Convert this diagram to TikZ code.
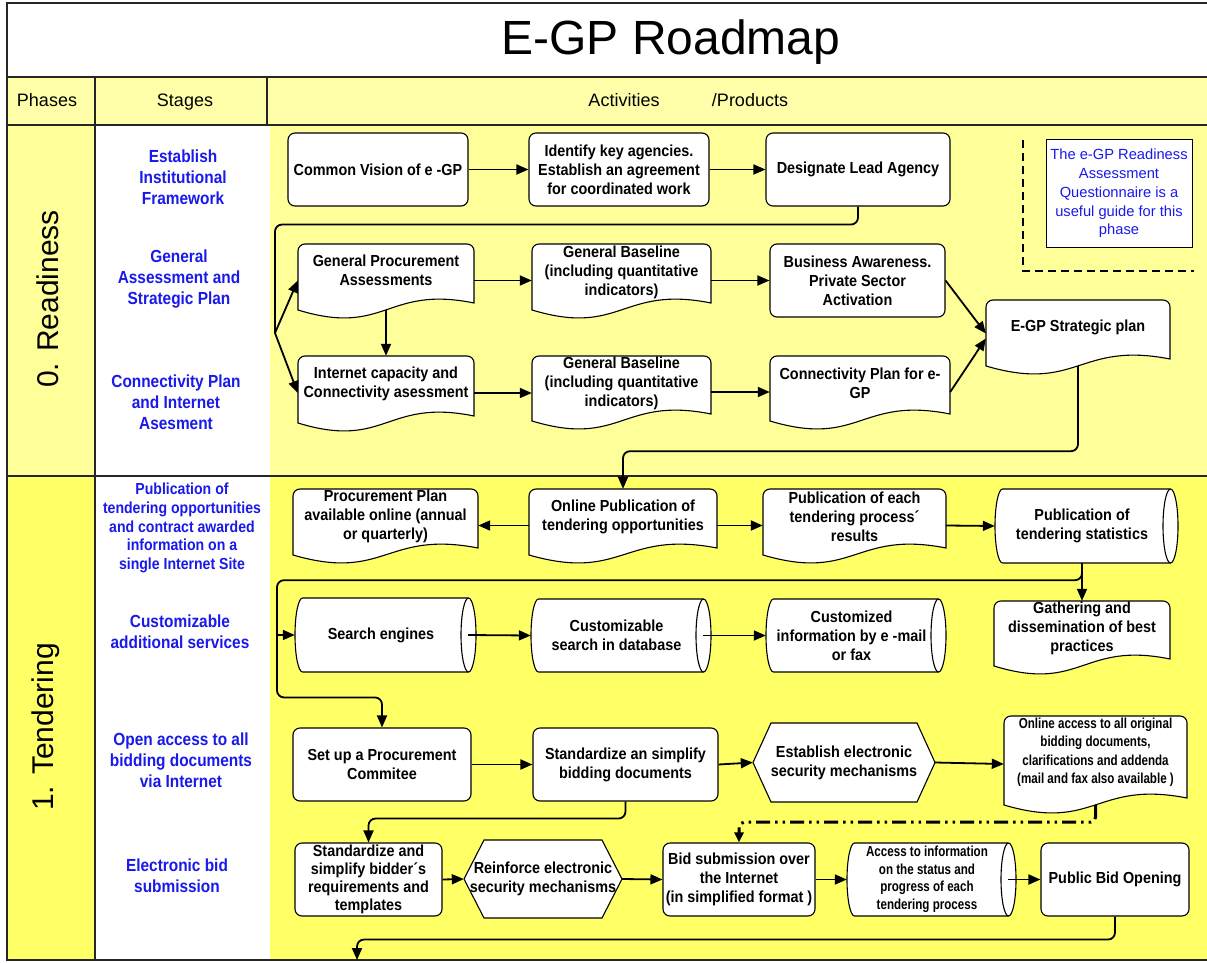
\documentclass[tikz,border=0pt]{standalone}
\usepackage{fontspec}
\setmainfont{Liberation Sans}
\newfontfamily\nfA[FakeStretch=0.9]{Liberation Sans}
\newfontfamily\nfS[FakeStretch=0.88]{Liberation Sans}
\newfontfamily\nfC[FakeStretch=0.8]{Liberation Sans}
\usetikzlibrary{arrows.meta,calc}
\definecolor{hdr}{HTML}{FFFFAA}
\definecolor{ready}{HTML}{FFFF99}
\definecolor{tend}{HTML}{FFFF66}
\definecolor{stblue}{RGB}{25,25,235}
\definecolor{rulec}{gray}{0.15}
\newcommand\boxfnt{\nfA\bfseries\fontsize{16}{19}\selectfont}
\newcommand\boxfntt{\nfA\bfseries\fontsize{16}{18}\selectfont}
\newcommand\stagefnt{\nfS\bfseries\fontsize{17.5}{21}\selectfont}
\newcommand\stagefnts{\nfS\bfseries\fontsize{16}{18.7}\selectfont}
\newcommand\smallfnt{\nfC\bfseries\fontsize{14.5}{18.5}\selectfont}
\newcommand\smallfntt{\nfC\bfseries\fontsize{14.5}{17.5}\selectfont}
% document shape: name x1 y1 x2 y2 dy font text
\newcommand\docnode[8]{%
  \pgfmathsetmacro\dcX{(#2+#4)/2}%
  \pgfmathsetmacro\dcY{(#3+#5)/2}%
  \filldraw[shp,fill=white] (#2,#5-7) -- (#2,#3+7) .. controls (#2,#3+3.1) and (#2+3.1,#3) .. (#2+7,#3)
     -- (#4-7,#3) .. controls (#4-3.1,#3) and (#4,#3+3.1) .. (#4,#3+7)
     -- (#4,#5-14) .. controls (\dcX,#5-32) and (\dcX,#5+20) .. (#2,#5-7) -- cycle;
  \node[frame, minimum width={#4-#2}, minimum height={#5-#3}] (#1) at (\dcX,\dcY) {};
  \node[txt, font=#7] (#1-t) at (\dcX,\dcY+#6) {#8};
}
% cylinder (direct access storage): name x1 y1 x2 y2 font text
\newcommand\cylnode[7]{%
  \pgfmathsetmacro\cyX{(#2+#4)/2}%
  \pgfmathsetmacro\cyM{(#3+#5)/2}%
  \pgfmathsetmacro\cyK{(#5-#3)/2*0.5523}%
  \pgfmathsetmacro\cyA{#4-7.5}%
  \pgfmathsetmacro\cyB{#2+7.5}%
  \filldraw[shp,fill=white] (\cyB,#3) -- (\cyA,#3) .. controls (\cyA+4.14,#3) and (#4,\cyM-\cyK) .. (#4,\cyM)
     .. controls (#4,\cyM+\cyK) and (\cyA+4.14,#5) .. (\cyA,#5) -- (\cyB,#5)
     .. controls (\cyB-4.14,#5) and (#2,\cyM+\cyK) .. (#2,\cyM)
     .. controls (#2,\cyM-\cyK) and (\cyB-4.14,#3) .. (\cyB,#3) -- cycle;
  \draw[shp] (\cyA,#3) .. controls (\cyA-4.14,#3) and (\cyA-7.5,\cyM-\cyK) .. (\cyA-7.5,\cyM)
     .. controls (\cyA-7.5,\cyM+\cyK) and (\cyA-4.14,#5) .. (\cyA,#5);
  \node[frame, minimum width={#4-#2}, minimum height={#5-#3}] (#1) at (\cyX,\cyM) {};
  \node[txt, font=#6] (#1-t) at (\cyX-4.5,\cyM) {#7};
}
% hexagon: name x1 y1 x2 y2 inset font text
\newcommand\hexnode[8]{%
  \pgfmathsetmacro\hxX{(#2+#4)/2}%
  \pgfmathsetmacro\hxM{(#3+#5)/2}%
  \filldraw[shp,fill=white] (#2,\hxM) -- (#2+#6,#3) -- (#4-#6,#3) -- (#4,\hxM) -- (#4-#6,#5) -- (#2+#6,#5) -- cycle;
  \node[frame, minimum width={#4-#2}, minimum height={#5-#3}] (#1) at (\hxX,\hxM) {};
  \node[txt, font=#7] (#1-t) at (\hxX,\hxM) {#8};
}
\begin{document}
\begin{tikzpicture}[x=1pt,y=-1pt,
  shp/.style={draw=black, line width=1.1pt},
  frame/.style={rectangle, draw=none, inner sep=0pt},
  txt/.style={align=center, inner sep=0pt},
  rr/.style={draw=black, line width=1.1pt, fill=white, rounded corners=7pt, align=center, inner sep=0pt, font=\boxfnt},
  con/.style={line width=1.8pt, rounded corners=7pt, -{Triangle[length=12pt,width=10pt]}},
  lin/.style={line width=1.8pt, rounded corners=7pt},
  dd/.style={line width=3pt, rounded corners=5pt, dash pattern=on 14pt off 5pt on 2.5pt off 5pt on 2.5pt off 5pt, -{Triangle[length=10pt,width=9pt]}},
  stage/.style={align=center, text=stblue, font=\stagefnt, inner sep=0pt},
  rulel/.style={draw=rulec, line width=2pt}]
\useasboundingbox (0,0) rectangle (1207,963);
% backgrounds
\fill[white] (0,0) rectangle (1207,963);
\fill[hdr] (7,77) rectangle (1207,125);
\fill[ready] (7,125) rectangle (95,476);
\fill[ready] (270,125) rectangle (1207,476);
\fill[tend] (7,476) rectangle (95,960);
\fill[tend] (270,476) rectangle (1207,960);
% rules
\draw[rulel] (1210,3) -- (7,3) -- (7,960) -- (1210,960);
\draw[rulel] (7,77) -- (1210,77);
\draw[rulel] (7,125) -- (1210,125);
\draw[rulel] (7,476) -- (1210,476);
\draw[rulel] (95,77) -- (95,960);
\draw[rulel] (267,77) -- (267,125);
% title and header
\node[font=\fontsize{48}{56}\selectfont, anchor=base, inner sep=0pt] (title) at (671,55) {E-GP Roadmap};
\node[font=\fontsize{18}{22}\selectfont, anchor=base, inner sep=0pt] (hph) at (47,107) {Phases};
\node[font=\fontsize{18}{22}\selectfont, anchor=base, inner sep=0pt] (hst) at (185,107) {Stages};
\node[font=\fontsize{18}{22}\selectfont, anchor=base, inner sep=0pt] (hac) at (624,107) {Activities};
\node[font=\fontsize{18}{22}\selectfont, anchor=base, inner sep=0pt] (hpr) at (750,107) {/Products};
% phases
\node[rotate=90, font=\fontsize{30}{36}\selectfont, inner sep=0pt] (ph0) at (48,299) {0. Readiness};
\node[rotate=90, font=\fontsize{30}{36}\selectfont, inner sep=0pt] (ph1) at (46,727) {1. Tendering};
% stages
\node[stage] (st1) at (183,177.5) {Establish\\Institutional\\Framework};
\node[stage] (st2) at (179,279.5) {General\\Assessment and\\Strategic Plan};
\node[stage] (st3) at (176,402) {Connectivity Plan\\and Internet\\Asesment};
\node[stage, font=\stagefnts] (st4) at (182,528) {Publication of\\tendering opportunities\\and contract awarded\\information on a\\single Internet Site};
\node[stage] (st5) at (180,632) {Customizable\\additional services};
\node[stage] (st6) at (181,760) {Open access to all\\bidding documents\\via Internet};
\node[stage] (st7) at (177,875.5) {Electronic bid\\submission};
% readiness note
\draw[line width=2pt, dash pattern=on 8pt off 5pt] (1023,140) -- (1023,271) -- (1194,271);
\node[draw=black, line width=1pt, fill=white, minimum width=146, minimum height=107, inner sep=0pt,
      align=center, text=stblue, font=\fontsize{14.7}{18.7}\selectfont] (note) at (1119,193.5)
      {The e-GP Readiness\\Assessment\\Questionnaire is a\\useful guide for this\\phase};
% readiness activities
\node[rr, minimum width=180, minimum height=73] (cv) at (378,169.5) {Common Vision of e -GP};
\node[rr, minimum width=180, minimum height=73] (ik) at (619,169.5) {Identify key agencies.\\Establish an agreement\\for coordinated work};
\node[rr, minimum width=184, minimum height=73] (dla) at (858,169.5) {Designate Lead Agency};
\docnode{gpa}{298}{244}{474}{317}{-10}{\boxfnt}{General Procurement\\Assessments}
\docnode{gb1}{532}{244}{711}{317}{-8}{\boxfnt}{General Baseline\\(including quantitative\\indicators)}
\node[rr, minimum width=175, minimum height=73] (ba) at (857.5,280.5) {Business Awareness.\\Private Sector\\Activation};
\docnode{ica}{298}{356}{474}{430}{-9}{\boxfnt}{Internet capacity and\\Connectivity asessment}
\docnode{gb2}{532}{356}{711}{428}{-9}{\boxfnt}{General Baseline\\(including quantitative\\indicators)}
\docnode{cp}{770}{356}{950}{428}{-9}{\boxfnt}{Connectivity Plan for e-\\GP}
\docnode{sp}{986}{300}{1170}{373}{-9}{\boxfnt}{E-GP Strategic plan}
% tendering activities
\docnode{pp}{293}{489}{478}{562}{-9}{\boxfnt}{Procurement Plan\\available online  (annual\\or quarterly)}
\docnode{op}{529}{489}{717}{562}{-9}{\boxfnt}{Online Publication of\\tendering opportunities}
\docnode{pe}{763}{489}{946}{562}{-9}{\boxfnt}{Publication of each\\tendering process´\\results}
\cylnode{pts}{995}{489}{1178}{563}{\boxfnt}{Publication of\\tendering statistics}
\cylnode{se}{295}{598}{476}{672}{\boxfnt}{Search engines}
\cylnode{csd}{531}{599}{711}{672}{\boxfnt}{Customizable\\search in database}
\cylnode{ci}{766}{599}{946}{672}{\boxfnt}{Customized\\information by e -mail\\or fax}
\docnode{gath}{994}{601}{1170}{673}{-9}{\boxfnt}{Gathering and\\dissemination of best\\practices}
\node[rr, minimum width=178, minimum height=73] (spc) at (382,764.5) {Set up a Procurement\\Commitee};
\node[rr, minimum width=185, minimum height=73] (sbd) at (625.5,764.5) {Standardize an simplify\\bidding documents};
\hexnode{esm}{753}{723}{935}{802}{18}{\boxfnt}{Establish electronic\\security mechanisms}
\docnode{oa}{1004}{716}{1187}{812}{-12}{\smallfnt}{Online access to all original\\bidding documents,\\clarifications and addenda\\(mail and fax also available )}
\node[rr, minimum width=147, minimum height=73, font=\boxfntt] (ss) at (368.5,879.5) {Standardize and\\simplify bidder´s\\requirements and\\templates};
\hexnode{rsm}{464}{840}{622}{918}{20}{\boxfnt}{Reinforce electronic\\security mechanisms}
\node[rr, minimum width=152, minimum height=73] (bs) at (739,879.5) {Bid submission over\\the Internet\\(in simplified format )};
\cylnode{acc}{847}{843}{1016}{916}{\smallfntt}{Access to information\\on the status and\\progress of each\\tendering process}
\node[rr, minimum width=148, minimum height=73] (pbo) at (1115,879.5) {Public Bid Opening};
% readiness connectors
\coordinate (fork) at (275,333);
\draw[con] (cv.east) -- (ik.west);
\draw[con] (ik.east) -- (dla.west);
\draw[lin] (dla.south) -- ++(0,18) -| (fork);
\draw[con] (fork) -- (gpa.west);
\draw[con] (fork) -- (ica.west);
\draw[con] (gpa.east) -- (gb1.west);
\draw[con] (gb1.east) -- (ba.west);
\draw[con] ($(gpa.south)+(0,-7)$) -- (ica.north);
\draw[con] (ica.east) -- (ica.east -| gb2.west);
\draw[con] (gb2.east) -- (cp.west);
\draw[con] (ba.east) -- ($(sp.west)+(0,-3)$);
\draw[con] (cp.east) -- ($(sp.west)+(0,2)$);
\draw[con] ($(sp.south)+(0,-7)$) -- ++(0,85) -| (op.north);
% tendering connectors
\coordinate (lft) at (277,635);
\coordinate (nextp) at (357,960);
\draw[con] (op.west) -- (pp.east);
\draw[con] (op.east) -- (pe.west);
\draw[con] (pe.east) -- (pts.west);
\draw[con] (pts.south -| gath.north) -- (gath.north);
\draw[con] (pts.south -| gath.north) -- ++(0,17) -| (lft) |- ($(spc.north)+(0,-30)$) -- (spc.north);
\draw[con] (lft) -- (se.west);
\draw[con] ($(se.east)+(-8,0)$) -- (csd.west);
\draw[con] ($(csd.east)+(-8,0)$) -- (ci.west);
\draw[con] (spc.east) -- (sbd.west);
\draw[con] (sbd.east) -- (esm.west);
\draw[con] (esm.east) -- (oa.west);
\draw[con] (sbd.south) -- ++(0,17) -| (ss.north);
\draw[dd] ($(oa.south)+(0,-7)$) -- ++(0,17) -| (bs.north);
\draw[con] (ss.east) -- (rsm.west);
\draw[con] (rsm.east) -- (bs.west);
\draw[con] (bs.east) -- (acc.west);
\draw[con] ($(acc.east)+(-8,0)$) -- (pbo.west);
\draw[con] (pbo.south) -- ++(0,23) -| (nextp);
\end{tikzpicture}
\end{document}
